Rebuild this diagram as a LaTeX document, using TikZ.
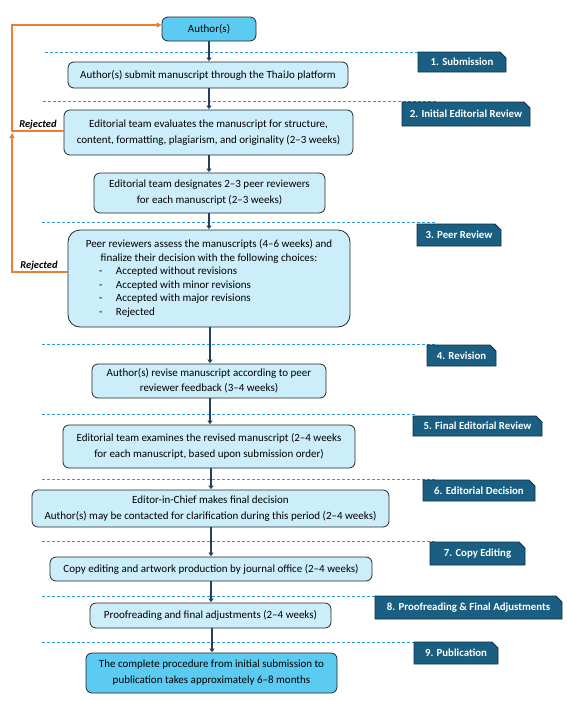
\documentclass[tikz,border=0pt]{standalone}
\usepackage{fontspec}
\setmainfont{Carlito}
\usetikzlibrary{arrows.meta,shapes.misc}
\definecolor{boxfill}{HTML}{CCEEFB}
\definecolor{hifill}{HTML}{5BCBF2}
\definecolor{labfill}{HTML}{1A5F82}
\definecolor{labdraw}{HTML}{0E3149}
\definecolor{dashc}{HTML}{2A9AD5}
\definecolor{arrc}{HTML}{23415E}
\definecolor{rejc}{HTML}{ED7D31}
\begin{document}
\begin{tikzpicture}[x=1pt,y=-1pt,
  box/.style={draw=black!85,line width=0.8pt,rounded corners=6pt,fill=boxfill,align=center,
    font=\fontsize{11}{16}\selectfont,inner sep=2pt},
  hibox/.style={box,fill=hifill},
  lab/.style={chamfered rectangle,chamfered rectangle corners=north east,chamfered rectangle xsep=3pt,chamfered rectangle ysep=3pt,
    draw=labdraw,line width=0.8pt,fill=labfill,text=white,font=\fontsize{10.8}{12}\selectfont\bfseries,inner sep=0pt},
  sep/.style={dashc,line width=0.8pt,dash pattern=on 3pt off 2pt},
  flow/.style={arrc,line width=2pt,-{Triangle[length=3.5pt,width=5pt]},shorten >=0.5pt},
  rej/.style={rejc,line width=1.6pt,-{Triangle[length=5pt,width=5pt]}},
  rejtxt/.style={font=\fontsize{10.5}{12}\selectfont\bfseries\itshape,inner sep=1pt}]
\useasboundingbox (0,0) rectangle (567,702);
% separators
\coordinate (s1a) at (45,52);  \coordinate (s1b) at (420,52);
\coordinate (s2a) at (43,101); \coordinate (s2b) at (436,101);
\coordinate (s3a) at (42,222); \coordinate (s3b) at (436,222);
\coordinate (s4a) at (42,344); \coordinate (s4b) at (437,344);
\coordinate (s5a) at (42,414); \coordinate (s5b) at (417,414);
\coordinate (s6a) at (42,479); \coordinate (s6b) at (437,479);
\coordinate (s7a) at (42,541); \coordinate (s7b) at (436,541);
\coordinate (s8a) at (42,596); \coordinate (s8b) at (434,596);
\coordinate (s9a) at (42,642); \coordinate (s9b) at (434,642);
\foreach \i in {1,...,9}{\draw[sep] (s\i a) -- (s\i b);}
% main boxes
\node[hibox,minimum width=94pt,minimum height=24pt] (author) at (209,29) {Author(s)};
\node[box,minimum width=280pt,minimum height=26pt] (submit) at (208,75) {Author(s) submit manuscript through the ThaiJo platform};
\node[box,minimum width=289pt,minimum height=45pt] (eval) at (208.5,132.5) {Editorial team evaluates the manuscript for structure,\\content, formatting, plagiarism, and originality (2--3 weeks)};
\node[box,minimum width=231pt,minimum height=40pt] (desig) at (209.5,193) {Editorial team designates 2--3 peer reviewers\\for each manuscript (2--3 weeks)};
\node[box,rounded corners=12pt,minimum width=282pt,minimum height=97pt,font=\fontsize{11}{13.5}\selectfont] (peer) at (209,278.5) {\parbox{276pt}{\centering Peer reviewers assess the manuscripts (4--6 weeks) and\\finalize their decision with the following choices:\par\raggedright
\hspace*{28pt}\makebox[17pt][l]{-}Accepted without revisions\\
\hspace*{28pt}\makebox[17pt][l]{-}Accepted with minor revisions\\
\hspace*{28pt}\makebox[17pt][l]{-}Accepted with major revisions\\
\hspace*{28pt}\makebox[17pt][l]{-}Rejected}};
\node[box,minimum width=234pt,minimum height=34pt,font=\fontsize{11}{15}\selectfont] (revise) at (209,381) {Author(s) revise manuscript according to peer\\reviewer feedback (3--4 weeks)};
\node[box,minimum width=292pt,minimum height=43pt] (exam) at (209,446.5) {Editorial team examines the revised manuscript (2--4 weeks\\for each manuscript, based upon submission order)};
\node[box,minimum width=357pt,minimum height=37pt] (editor) at (210.5,508.5) {Editor-in-Chief makes final decision\\Author(s) may be contacted for clarification during this period (2--4 weeks)};
\node[box,minimum width=322pt,minimum height=24pt] (copy) at (211,569) {Copy editing and artwork production by journal office (2--4 weeks)};
\node[box,minimum width=241pt,minimum height=25pt] (proof) at (210.5,615.5) {Proofreading and final adjustments (2--4 weeks)};
\node[hibox,minimum width=251pt,minimum height=40pt] (final) at (211.5,673) {The complete procedure from initial submission to\\publication takes approximately 6--8 months};
% flow arrows
\draw[flow] (author.south -| 209,0) -- (submit.north -| 209,0);
\draw[flow] (submit.south -| 209,0) -- (eval.north -| 209,0);
\draw[flow] (eval.south -| 209,0) -- (desig.north -| 209,0);
\draw[flow] (desig.south -| 209,0) -- (peer.north -| 209,0);
\draw[flow] (peer.south -| 210,0) -- (revise.north -| 210,0);
\draw[flow] (revise.south -| 210,0) -- (exam.north -| 210,0);
\draw[flow] (exam.south -| 211,0) -- (editor.north -| 211,0);
\draw[flow] (editor.south -| 211,0) -- (copy.north -| 211,0);
\draw[flow] (copy.south -| 211,0) -- (proof.north -| 211,0);
\draw[flow] (proof.south -| 212,0) -- (final.north -| 212,0);
% stage labels
\node[lab,minimum width=88pt,minimum height=20pt] (l1) at (462,62) {1. Submission};
\node[lab,minimum width=128pt,minimum height=24pt] (l2) at (466,114) {2. Initial Editorial Review};
\node[lab,minimum width=84pt,minimum height=22pt] (l3) at (459,235) {3. Peer Review};
\node[lab,minimum width=69pt,minimum height=21pt] (l4) at (461.5,355.5) {4. Revision};
\node[lab,minimum width=129pt,minimum height=20pt] (l5) at (477.5,426) {5. Final Editorial Review};
\node[lab,minimum width=112pt,minimum height=21pt] (l6) at (479,490.5) {6. Editorial Decision};
\node[lab,minimum width=95pt,minimum height=23pt] (l7) at (477.5,553.5) {7. Copy Editing};
\node[lab,minimum width=187pt,minimum height=23pt] (l8) at (468.5,607.5) {8. Proofreading \& Final Adjustments};
\node[lab,minimum width=84pt,minimum height=22pt] (l9) at (456,653) {9. Publication};
% rejected paths
\coordinate (rtop) at (12,25);
\coordinate (rjoin) at (12,133);
\draw[rej] (eval.west |- 0,131) -| (rtop) -- (rtop -| author.west);
\draw[rej] (peer.west |- 0,272) -| (rjoin);
\node[rejtxt,anchor=south] (rt1) at (38,130) {Rejected};
\node[rejtxt,anchor=south] (rt2) at (39,271) {Rejected};
\end{tikzpicture}
\end{document}
